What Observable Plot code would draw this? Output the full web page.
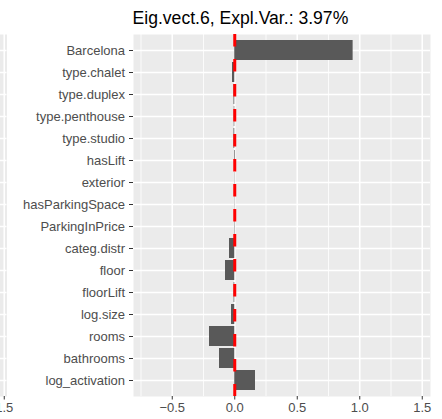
<!DOCTYPE html>
<html>
<head>
<meta charset="utf-8">
<script src="https://cdn.jsdelivr.net/npm/d3@7"></script>
<script src="https://cdn.jsdelivr.net/npm/@observablehq/plot@0.6"></script>
<style>
  html, body { margin: 0; padding: 0; background: #fff; }
  #wrap { position: relative; width: 442px; height: 419px; overflow: hidden; font-family: "Liberation Sans", Arial, sans-serif; }
  #wrap > div { position: absolute; top: 0; }
</style>
</head>
<body>
<div id="wrap"><div id="neighbor"></div><div id="main"></div></div>
<script>
const title = "Eig.vect.6, Expl.Var.: 3.97%";
const categories = ["Barcelona","type.chalet","type.duplex","type.penthouse","type.studio","hasLift","exterior","hasParkingSpace","ParkingInPrice","categ.distr","floor","floorLift","log.size","rooms","bathrooms","log_activation"];
const values = [0.947,-0.018,-0.006,-0.004,-0.006,0.005,-0.002,0.002,0.003,-0.042,-0.074,-0.005,-0.026,-0.202,-0.122,0.166];
const majorTicks = [-0.5, 0, 0.5, 1.0, 1.5];
const minorTicks = [-0.75, -0.25, 0.25, 0.75, 1.25];
const neighborTicks = [1.5];

const data = categories.map((c, i) => ({category: c, value: values[i]}));
const fmt = d3.format(".1f");

const common = {
  width: 442,
  height: 419,
  marginLeft: 133,
  marginTop: 34,
  marginBottom: 23,
  style: {fontFamily: '"Liberation Sans", Arial, sans-serif', background: "transparent"}
};

const main = Plot.plot({
  ...common,
  marginRight: 12,
  y: {domain: categories, paddingInner: 0.1, paddingOuter: 0.15, label: null},
  x: {domain: [-0.81, 1.566], label: null},
  marks: [
    Plot.frame({fill: "#EBEBEB", stroke: null}),
    Plot.gridX(minorTicks, {stroke: "#ffffff", strokeOpacity: 1, strokeWidth: 0.8}),
    Plot.gridX(majorTicks, {stroke: "#ffffff", strokeOpacity: 1, strokeWidth: 1.6}),
    Plot.gridY(categories, {stroke: "#ffffff", strokeOpacity: 1, strokeWidth: 1.6}),
    Plot.barX(data, {y: "category", x: "value", fill: "#595959"}),
    Plot.ruleX([0], {stroke: "#FF0000", strokeWidth: 3, strokeDasharray: "12.4,12.6"}),
    Plot.axisX(majorTicks, {tickSize: 3.5, tickPadding: 3, fontSize: 13, tickFormat: fmt, stroke: "#333333", fill: "#4D4D4D", label: null}),
    Plot.axisY({tickSize: 4, tickPadding: 4.5, fontSize: 13, stroke: "#333333", fill: "#4D4D4D", label: null}),
    Plot.text([title], {frameAnchor: "top-left", textAnchor: "start", lineAnchor: "bottom", dy: -11, dx: -1, fontSize: 17.6, fill: "#000000"})
  ]
});
document.getElementById("main").appendChild(main);

const neighbor = Plot.plot({
  ...common,
  marginRight: 17.5,
  y: {domain: categories, paddingInner: 0.1, paddingOuter: 0.15, axis: null},
  x: {domain: [-0.81, 1.522], label: null},
  marks: [
    Plot.frame({fill: "#EBEBEB", stroke: null}),
    Plot.gridX(minorTicks, {stroke: "#ffffff", strokeOpacity: 1, strokeWidth: 0.8}),
    Plot.gridX(majorTicks, {stroke: "#ffffff", strokeOpacity: 1, strokeWidth: 1.6}),
    Plot.gridY(categories, {stroke: "#ffffff", strokeOpacity: 1, strokeWidth: 1.6}),
    Plot.axisX(neighborTicks, {tickSize: 3.5, tickPadding: 3, fontSize: 13, tickFormat: fmt, stroke: "#333333", fill: "#4D4D4D", label: null})
  ]
});
const nb = document.getElementById("neighbor");
nb.appendChild(neighbor);
nb.style.left = (4 - 421.75) + "px";
</script>
</body>
</html>
